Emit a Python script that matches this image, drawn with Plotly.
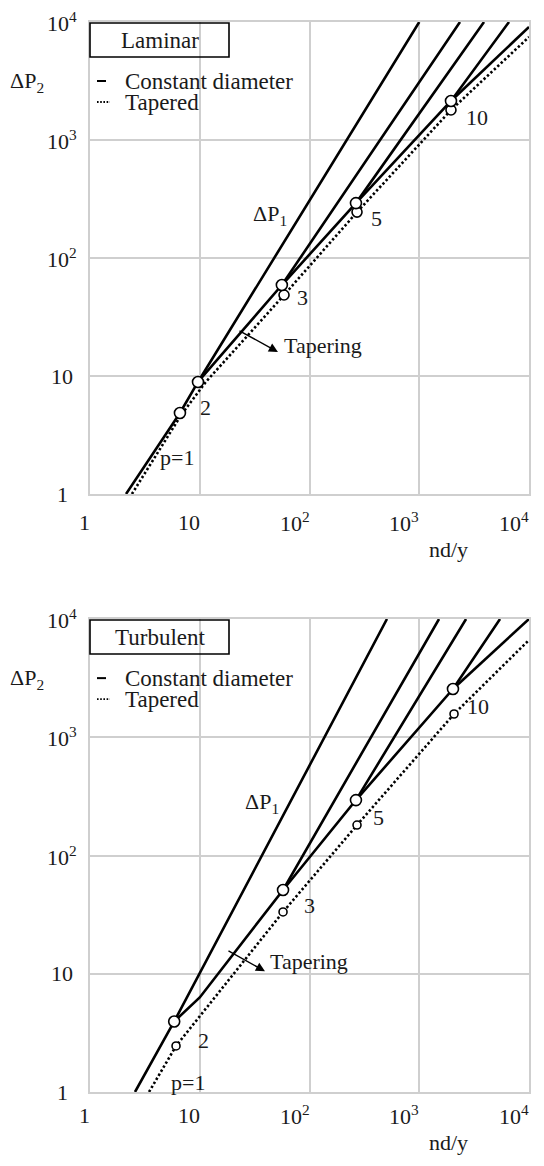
import math
import plotly.graph_objects as go
from plotly.subplots import make_subplots

# ---------------- data ----------------
tick_vals = [1, 10, 100, 1000, 10000]
tick_text = ["1", "10", "10<sup>2</sup>", "10<sup>3</sup>", "10<sup>4</sup>"]

# Laminar (top panel) - constant diameter lines
lam_p1_x = [2.13, 6.6, 9.64, 1000]
lam_p1_y = [1, 4.86, 8.9, 10000]
lam_p2_x = [9.64, 56, 2350]
lam_p2_y = [8.9, 59, 10000]
lam_p3_x = [56, 265, 3890]
lam_p3_y = [59, 292, 10000]
lam_p5_x = [265, 1946, 6575]
lam_p5_y = [292, 2142, 10000]
lam_p10_x = [1946, 10000]
lam_p10_y = [2142, 9075]
# Laminar - tapered
lam_tap_x = [2.41, 6.8, 11.3, 58.6, 271, 1946, 10000]
lam_tap_y = [1, 4.7, 8.85, 48.6, 245, 1795, 7460]
# Laminar nodes
lam_node_x = [6.6, 9.64, 56, 265, 1946]
lam_node_y = [4.86, 8.9, 59, 292, 2142]
lam_tnode_x = [58.6, 271, 1946]
lam_tnode_y = [48.6, 245, 1795]

# Turbulent (bottom panel) - constant diameter lines
tur_p1_x = [2.57, 5.85, 508]
tur_p1_y = [1, 3.95, 10000]
tur_p2_x = [5.85, 10.0, 57.4, 1514]
tur_p2_y = [3.95, 6.3, 51.1, 10000]
tur_p3_x = [57.4, 265, 2670]
tur_p3_y = [51.1, 294, 10000]
tur_p5_x = [265, 2029, 5445]
tur_p5_y = [294, 2559, 10000]
tur_p10_x = [2029, 10000]
tur_p10_y = [2559, 10000]
# Turbulent - tapered
tur_tap_x = [3.45, 6.08, 57.4, 271, 2075, 10000]
tur_tap_y = [1, 2.45, 33.3, 181, 1573, 6640]
# Turbulent nodes
tur_node_x = [5.85, 57.4, 265, 2029]
tur_node_y = [3.95, 51.1, 294, 2559]
tur_tnode_x = [6.08, 57.4, 271, 2075]
tur_tnode_y = [2.45, 33.3, 181, 1573]

panel_titles = ["Laminar", "Turbulent"]
legend_labels = ["Constant diameter", "Tapered"]
point_labels = ["p=1", "2", "3", "5", "10"]

# ---------------- figure ----------------
FONT = "Liberation Serif"
TXT = "#1a1a1a"
GRID = "#cfcfcf"
FS = 22
FS_LEG = 23

# page body has an 8px margin: the figure is placed at (8, 8)
OFF = 8
W, H = 544 - OFF, 1166 - OFF
ML, MT = 90 - OFF, 22 - OFF
MR = W - (529 - OFF)
MB = H - (1092 - OFF)
PH = H - MT - MB
top_dom = [1 - (494 - 22) / PH, 1.0]
bot_dom = [0.0, 1 - (619 - 22) / PH]

fig = make_subplots(rows=2, cols=1)

solid = dict(color="black", width=2.6)
dotted = dict(color="black", width=2.6, dash="2.4px,2.3px")

def add_panel(row, lines, tap, nodes, tnodes, tsize):
    for xs, ys in lines:
        fig.add_trace(go.Scatter(x=xs, y=ys, mode="lines", line=solid,
                                 showlegend=False, hoverinfo="skip"), row=row, col=1)
    fig.add_trace(go.Scatter(x=tap[0], y=tap[1], mode="lines", line=dotted,
                             showlegend=False, hoverinfo="skip"), row=row, col=1)
    fig.add_trace(go.Scatter(x=tnodes[0], y=tnodes[1], mode="markers",
                             marker=dict(symbol="circle", size=tsize, color="white",
                                         line=dict(color="black", width=1.6)),
                             showlegend=False, hoverinfo="skip"), row=row, col=1)
    fig.add_trace(go.Scatter(x=nodes[0], y=nodes[1], mode="markers",
                             marker=dict(symbol="circle", size=11, color="white",
                                         line=dict(color="black", width=1.6)),
                             showlegend=False, hoverinfo="skip"), row=row, col=1)

add_panel(1,
          [(lam_p1_x, lam_p1_y), (lam_p2_x, lam_p2_y), (lam_p3_x, lam_p3_y),
           (lam_p5_x, lam_p5_y), (lam_p10_x, lam_p10_y)],
          (lam_tap_x, lam_tap_y), (lam_node_x, lam_node_y),
          (lam_tnode_x, lam_tnode_y), 10)
add_panel(2,
          [(tur_p1_x, tur_p1_y), (tur_p2_x, tur_p2_y), (tur_p3_x, tur_p3_y),
           (tur_p5_x, tur_p5_y), (tur_p10_x, tur_p10_y)],
          (tur_tap_x, tur_tap_y), (tur_node_x, tur_node_y),
          (tur_tnode_x, tur_tnode_y), 8)

axis_common = dict(type="log", range=[0, 4], tickvals=tick_vals, showticklabels=False,
                   showgrid=True, gridcolor=GRID, gridwidth=1.5,
                   showline=True, mirror=True, linecolor=GRID, linewidth=1.5,
                   ticks="", zeroline=False)
fig.update_xaxes(**axis_common, domain=[0, 1])
fig.update_yaxes(**axis_common)
fig.update_yaxes(domain=top_dom, row=1, col=1)
fig.update_yaxes(domain=bot_dom, row=2, col=1)

ann = []
shapes = []
font = dict(family=FONT, size=FS, color=TXT)
font_leg = dict(family=FONT, size=FS_LEG, color=TXT)
L = math.log10

panels = [
    dict(xr="x", yr="y", title=panel_titles[0], xlab_shift=-28,
         dp1=(43.6, 231),
         labels=[(6.2, 2.02), (11.2, 5.46), (85.5, 46.7), (412, 218), (3360, 1537)],
         arrow=((22.3, 24.5), (51.6, 16.0)), tapering=(56.2, 18.3)),
    dict(xr="x2", yr="y2", title=panel_titles[1], xlab_shift=-23,
         dp1=(36.9, 278),
         labels=[(7.8, 1.215), (10.9, 2.75), (101, 38.1), (421, 208), (3430, 1837)],
         arrow=((17.7, 15.9), (39.3, 10.5)), tapering=(41.9, 12.6)),
]

for i, p in enumerate(panels):
    xr, yr = p["xr"], p["yr"]
    xd, yd = xr + " domain", yr + " domain"
    # x tick labels (right-aligned at the grid line)
    for v, t in zip(tick_vals, tick_text):
        ann.append(dict(x=L(v), y=0, xref=xr, yref=yd, text=t, showarrow=False,
                        xanchor="right", yanchor="middle", xshift=2,
                        yshift=p["xlab_shift"], font=font))
    # y tick labels
    for v, t in zip(tick_vals, tick_text):
        ann.append(dict(x=0, y=L(v), xref=xd, yref=yr, text=t, showarrow=False,
                        xanchor="center", yanchor="middle", xshift=-28,
                        font=font))
    # axis titles
    ann.append(dict(x=0, y=1, xref=xd, yref=yd, text="ΔP<sub>2</sub>", showarrow=False,
                    xanchor="center", yanchor="middle", xshift=-63, yshift=-60,
                    font=font))
    ann.append(dict(x=1, y=0, xref=xd, yref=yd, text="nd/y", showarrow=False,
                    xanchor="center", yanchor="middle", xshift=-81,
                    yshift=p["xlab_shift"] - 27, font=font))
    # legend box
    shapes.append(dict(type="rect", xref=xd, yref=yd, x0=0, x1=(229 - 90) / 439,
                       y0=1 - 35 / 472, y1=1 - 1 / 472,
                       line=dict(color="black", width=1.6), fillcolor="rgba(0,0,0,0)"))
    ann.append(dict(x=(160 - 90) / 439, y=1, xref=xd, yref=yd, text=p["title"],
                    showarrow=False, xanchor="center", yanchor="middle", yshift=-18,
                    font=font_leg))
    shapes.append(dict(type="line", xref=xd, yref=yd, x0=7 / 439, x1=16 / 439,
                       y0=1 - 59 / 472, y1=1 - 59 / 472,
                       line=dict(color="black", width=2)))
    shapes.append(dict(type="line", xref=xd, yref=yd, x0=7 / 439, x1=20 / 439,
                       y0=1 - 80 / 472, y1=1 - 80 / 472,
                       line=dict(color="black", width=1.8, dash="1.6px,1.6px")))
    ann.append(dict(x=33 / 439, y=1, xref=xd, yref=yd, text=legend_labels[0],
                    showarrow=False, xanchor="left", yanchor="middle", yshift=-59,
                    font=font_leg))
    ann.append(dict(x=33 / 439, y=1, xref=xd, yref=yd, text=legend_labels[1],
                    showarrow=False, xanchor="left", yanchor="middle", yshift=-80,
                    font=font_leg))
    # in-plot labels
    ann.append(dict(x=L(p["dp1"][0]), y=L(p["dp1"][1]), xref=xr, yref=yr,
                    text="ΔP<sub>1</sub>", showarrow=False, font=font))
    for (lx, ly), t in zip(p["labels"], point_labels):
        ann.append(dict(x=L(lx), y=L(ly), xref=xr, yref=yr, text=t,
                        showarrow=False, font=font))
    (tx, ty), (hx, hy) = p["arrow"]
    ann.append(dict(x=L(hx), y=L(hy), ax=L(tx), ay=L(ty), xref=xr, yref=yr,
                    axref=xr, ayref=yr, text="", showarrow=True, arrowhead=2,
                    arrowsize=1.3, arrowwidth=1.4, arrowcolor="black"))
    ann.append(dict(x=L(p["tapering"][0]), y=L(p["tapering"][1]), xref=xr, yref=yr,
                    text="Tapering", showarrow=False, xanchor="left", yanchor="middle",
                    font=font))

fig.update_layout(width=W, height=H, margin=dict(l=ML, r=MR, t=MT, b=MB),
                  plot_bgcolor="white", paper_bgcolor="white",
                  annotations=ann, shapes=shapes, showlegend=False,
                  font=font)

fig.write_html("out.html")
